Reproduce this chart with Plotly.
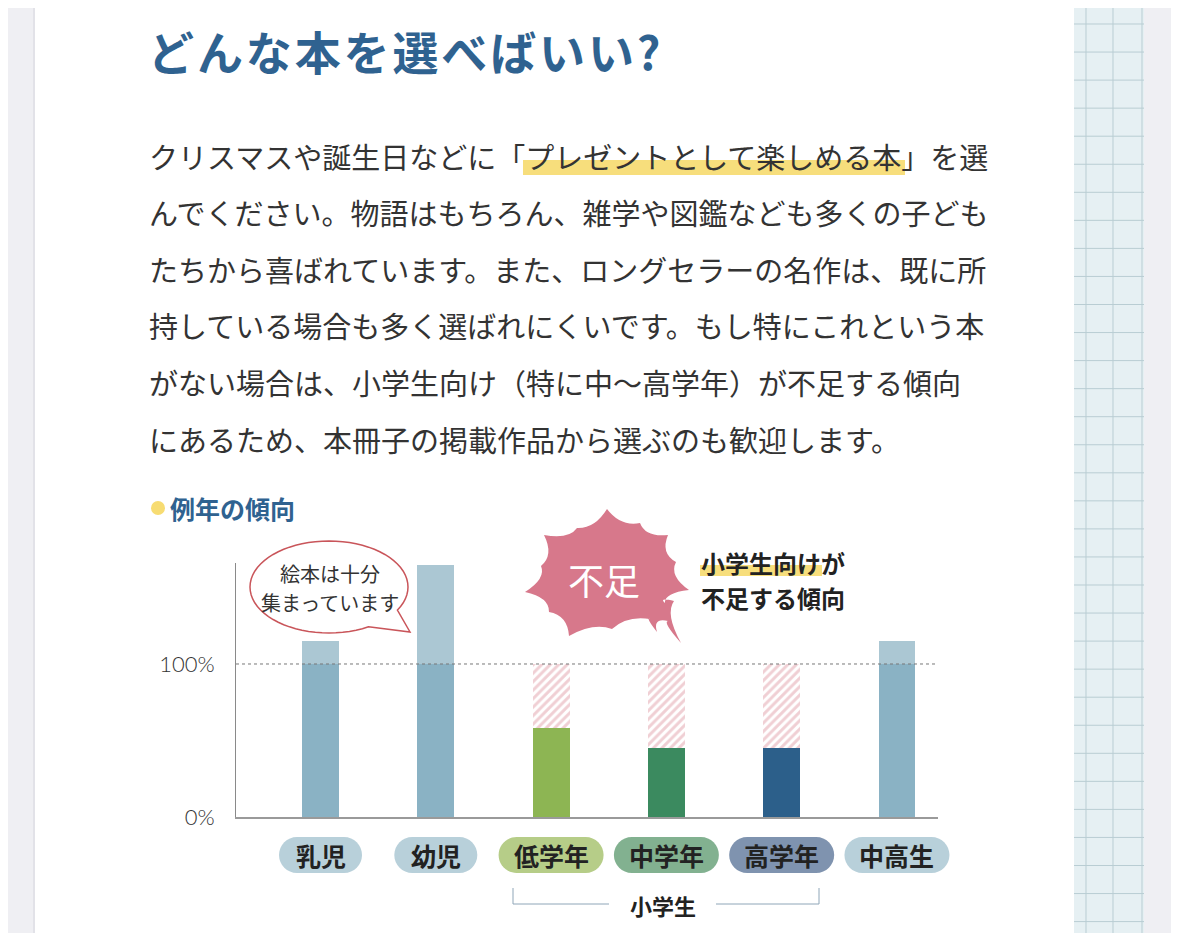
import math
import plotly.graph_objects as go

# ---------------- data ----------------
categories = ["乳児", "幼児", "低学年", "中学年", "高学年", "中高生"]
values = [115, 165, 58, 45, 45, 115]          # % of needed books collected
base_colors = ["#8AB2C4", "#8AB2C4", "#8DB553", "#3B8A5F", "#2C5F8A", "#8AB2C4"]
excess_color = "#ABC7D3"
pill_colors = ["#B8D0DA", "#B8D0DA", "#B6CD88", "#82B190", "#7F93AF", "#B8D0DA"]
tick_vals = [0, 100]
tick_text = ["0%", "100%"]
group_label = "小学生"
title_text = "どんな本を選べばいい?"
section_label = "例年の傾向"
bubble_lines = ["絵本は十分", "集まっています"]
burst_text = "不足"
note_lines = ["小学生向けが", "不足する傾向"]
body_lines = [
    "クリスマスや誕生日などに「プレゼントとして楽しめる本」を選",
    "んでください。物語はもちろん、雑学や図鑑なども多くの子ども",
    "たちから喜ばれています。また、ロングセラーの名作は、既に所",
    "持している場合も多く選ばれにくいです。もし特にこれという本",
    "がない場合は、小学生向け（特に中〜高学年）が不足する傾向",
    "にあるため、本冊子の掲載作品から選ぶのも歓迎します。",
]

base = [min(v, 100) for v in values]
excess = [max(v - 100, 0) for v in values]
shortfall = [max(100 - v, 0) for v in values]

# ---------------- layout geometry (screen pixels) ----------------
SW, SH = 1179, 933          # window
OFF = 8                     # page body margin
FW, FH = SW - OFF, SH - OFF
PL, PR, PT, PB = 236, 938, 563, 817
XMIN, XMAX = -0.733, 5.356
YMAX = 166
UX = (PR - PL) / (XMAX - XMIN)   # px per x unit

def PX(x):
    return (x - PL) / (PR - PL)

def PY(y):
    return (PB - y) / (PB - PT)

def cat_px(i):
    return PL + (i - XMIN) * UX

def poly_path(points):
    s = "M %.5f,%.5f" % (PX(points[0][0]), PY(points[0][1]))
    for (x, y) in points[1:]:
        s += " L %.5f,%.5f" % (PX(x), PY(y))
    return s + " Z"

def star_path(tips, center, pull):
    cx, cy = center
    n = len(tips)
    s = "M %.5f,%.5f" % (PX(tips[0][0]), PY(tips[0][1]))
    for i in range(n):
        a = tips[i]
        b = tips[(i + 1) % n]
        mx, my = (a[0] + b[0]) / 2, (a[1] + b[1]) / 2
        qx, qy = mx + pull * (cx - mx), my + pull * (cy - my)
        s += " Q %.5f,%.5f %.5f,%.5f" % (PX(qx), PY(qy), PX(b[0]), PY(b[1]))
    return s + " Z"

FONT = "Noto Sans CJK JP"
shapes = []
annotations = []

# page background
shapes.append(dict(type="rect", xref="paper", yref="paper", x0=PX(35), x1=PX(1074),
                   y0=PY(SH), y1=PY(0), fillcolor="white", line_width=0, layer="below"))
shapes.append(dict(type="line", xref="paper", yref="paper", x0=PX(34), x1=PX(34),
                   y0=PY(SH), y1=PY(0), line=dict(color="#E2E2E8", width=2), layer="below"))
# graph-paper strip
shapes.append(dict(type="rect", xref="paper", yref="paper", x0=PX(1074), x1=PX(1144),
                   y0=PY(SH), y1=PY(0), fillcolor="#E6F0F3", line_width=0, layer="below"))
gy = 24.0
while gy < SH:
    shapes.append(dict(type="line", xref="paper", yref="paper", x0=PX(1074), x1=PX(1144),
                       y0=PY(gy), y1=PY(gy), line=dict(color="#B9CDD3", width=1), layer="below"))
    gy += 28.05
for gx in [1086, 1113, 1142]:
    shapes.append(dict(type="line", xref="paper", yref="paper", x0=PX(gx), x1=PX(gx),
                       y0=PY(SH), y1=PY(0), line=dict(color="#B9CDD3", width=1), layer="below"))

# title
annotations.append(dict(text="\u200a".join(title_text), xref="paper", yref="paper",
                        x=PX(146), y=PY(50), xanchor="left", yanchor="middle", showarrow=False,
                        font=dict(family=FONT, size=46, color="#2F6290", weight="bold")))

# body text
shapes.append(dict(type="rect", xref="paper", yref="paper", x0=PX(523), x1=PX(905),
                   y0=PY(175), y1=PY(160), fillcolor="#F7DE7C", line_width=0, layer="below"))
for i, line in enumerate(body_lines):
    annotations.append(dict(text=line, xref="paper", yref="paper", x=PX(147),
                            y=PY(155.5 + i * 56.6), xanchor="left", yanchor="middle",
                            showarrow=False, font=dict(family=FONT, size=29, color="#333333")))

# section label
shapes.append(dict(type="circle", xref="paper", yref="paper", x0=PX(151), x1=PX(165),
                   y0=PY(515), y1=PY(501), fillcolor="#F7DC72", line_width=0))
annotations.append(dict(text=section_label, xref="paper", yref="paper", x=PX(168), y=PY(508),
                        xanchor="left", yanchor="middle", showarrow=False,
                        font=dict(family=FONT, size=25, color="#2F6290", weight="bold")))

# 100% dashed reference line
shapes.append(dict(type="line", xref="paper", yref="y", x0=0, x1=1, y0=100, y1=100,
                   line=dict(color="#777777", width=1, dash="3px,3px"), layer="above"))

# category pills
def pill_path(cx, hw, cy, hh):
    k = 0.5523
    x0, x1 = cx - hw, cx + hw
    r = hh
    p = "M %.5f,%.5f L %.5f,%.5f" % (PX(x0 + r), PY(cy - hh), PX(x1 - r), PY(cy - hh))
    p += " C %.5f,%.5f %.5f,%.5f %.5f,%.5f" % (PX(x1 - r + k * r), PY(cy - hh), PX(x1), PY(cy - k * r), PX(x1), PY(cy))
    p += " C %.5f,%.5f %.5f,%.5f %.5f,%.5f" % (PX(x1), PY(cy + k * r), PX(x1 - r + k * r), PY(cy + hh), PX(x1 - r), PY(cy + hh))
    p += " L %.5f,%.5f" % (PX(x0 + r), PY(cy + hh))
    p += " C %.5f,%.5f %.5f,%.5f %.5f,%.5f" % (PX(x0 + r - k * r), PY(cy + hh), PX(x0), PY(cy + k * r), PX(x0), PY(cy))
    p += " C %.5f,%.5f %.5f,%.5f %.5f,%.5f Z" % (PX(x0), PY(cy - k * r), PX(x0 + r - k * r), PY(cy - hh), PX(x0 + r), PY(cy - hh))
    return p

for i, (cat, col) in enumerate(zip(categories, pill_colors)):
    hw = 41.5 if len(cat) == 2 else 52.5
    shapes.append(dict(type="path", xref="paper", yref="paper",
                       path=pill_path(cat_px(i), hw, 855, 18),
                       fillcolor=col, line_width=0))
    annotations.append(dict(text=cat, xref="x", yref="paper", x=i, y=PY(855),
                            xanchor="center", yanchor="middle", showarrow=False,
                            font=dict(family=FONT, size=25, color="#222222", weight="bold")))

# 小学生 bracket
bc = dict(color="#8FA6B8", width=1)
shapes += [
    dict(type="line", xref="paper", yref="paper", x0=PX(513), x1=PX(513), y0=PY(888), y1=PY(904), line=bc),
    dict(type="line", xref="paper", yref="paper", x0=PX(513), x1=PX(609), y0=PY(904), y1=PY(904), line=bc),
    dict(type="line", xref="paper", yref="paper", x0=PX(716), x1=PX(819), y0=PY(904), y1=PY(904), line=bc),
    dict(type="line", xref="paper", yref="paper", x0=PX(819), x1=PX(819), y0=PY(888), y1=PY(904), line=bc),
]
annotations.append(dict(text=group_label, xref="paper", yref="paper", x=PX(663), y=PY(905),
                        xanchor="center", yanchor="middle", showarrow=False,
                        font=dict(family=FONT, size=22, color="#222222", weight="bold")))

# speech bubble
cxb, cyb, rxb, ryb = 329, 587, 79, 46
pts = []
for d in range(60, 391, 5):
    t = math.radians(d)
    pts.append((cxb + rxb * math.cos(t), cyb + ryb * math.sin(t)))
pts.append((410, 632))
shapes.append(dict(type="path", xref="paper", yref="paper", path=poly_path(pts),
                   fillcolor="white", line=dict(color="#C9555A", width=1.5), layer="above"))
for j, t in enumerate(bubble_lines):
    annotations.append(dict(text=t, xref="paper", yref="paper", x=PX(330), y=PY(573 + j * 29),
                            xanchor="center", yanchor="middle", showarrow=False,
                            font=dict(family=FONT, size=20, color="#333333")))

# burst
burst_tips = [(607, 509), (640, 523), (668, 535), (676, 562), (689, 590), (665, 603),
              (674, 601), (681, 643), (668, 621), (657, 632), (650, 619), (612, 629),
              (569, 636), (549, 612), (525, 592), (541, 566), (544, 535), (577, 528)]
shapes.append(dict(type="path", xref="paper", yref="paper",
                   path=star_path(burst_tips, (607, 576), 0.18),
                   fillcolor="#D7788B", line_width=0, layer="above"))
annotations.append(dict(text=burst_text, xref="paper", yref="paper", x=PX(604), y=PY(579),
                        xanchor="center", yanchor="middle", showarrow=False,
                        font=dict(family=FONT, size=36, color="white")))

# note text
shapes.append(dict(type="rect", xref="paper", yref="paper", x0=PX(700), x1=PX(822),
                   y0=PY(576), y1=PY(565), fillcolor="#F7DE7C", line_width=0, layer="below"))
for j, t in enumerate(note_lines):
    annotations.append(dict(text=t, xref="paper", yref="paper", x=PX(699), y=PY(562 + j * 35),
                            xanchor="left", yanchor="middle", showarrow=False,
                            font=dict(family=FONT, size=24, color="#222222", weight="bold")))

# ---------------- figure ----------------
xs = list(range(len(categories)))
fig = go.Figure()
fig.add_bar(x=xs, y=base, width=0.32, marker=dict(color=base_colors, line=dict(width=0)),
            hoverinfo="skip")
fig.add_bar(x=xs, y=excess, width=0.32, marker=dict(color=excess_color, line=dict(width=0)),
            hoverinfo="skip")
fig.add_bar(x=xs, y=shortfall, width=0.32,
            marker=dict(color="white", line=dict(width=0),
                        pattern=dict(shape="/", fgcolor="#E2A0A9", bgcolor="white",
                                     size=6, solidity=0.5)),
            hoverinfo="skip")

fig.update_layout(
    width=FW, height=FH, autosize=False,
    margin=dict(l=PL - OFF, r=SW - PR, t=PT - OFF, b=SH - PB, pad=0),
    paper_bgcolor="#EFEFF3", plot_bgcolor="rgba(0,0,0,0)",
    barmode="stack", showlegend=False,
    font=dict(family=FONT, color="#333333"),
    shapes=shapes, annotations=annotations,
    xaxis=dict(range=[XMIN, XMAX], showgrid=False, zeroline=False, showticklabels=False,
               showline=True, linecolor="#9A9A9A", linewidth=1.5, ticks="", fixedrange=True),
    yaxis=dict(range=[0, YMAX], showgrid=False, zeroline=False, showline=True,
               linecolor="#8A8A8A", linewidth=1, tickvals=tick_vals, ticktext=tick_text,
               ticks="", ticklabelstandoff=16,
               tickfont=dict(family="Lato", size=22, color="#333333", weight=300),
               fixedrange=True),
)

fig.write_html("out.html")
